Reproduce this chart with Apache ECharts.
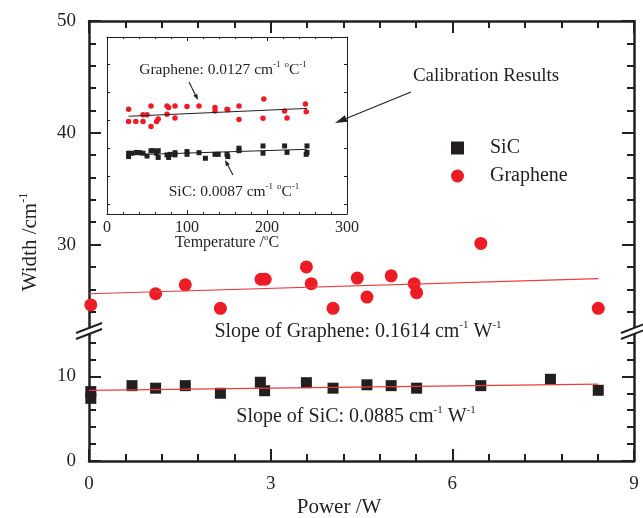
<!DOCTYPE html>
<html>
<head>
<meta charset="utf-8">
<script src="https://cdn.jsdelivr.net/npm/echarts@6/dist/echarts.min.js"></script>
<style>
html, body { margin: 0; padding: 0; background: #fff; }
#main { width: 643px; height: 518px; }
</style>
</head>
<body>
<div id="main"></div>
<script>
// main plot: line width vs heating power
var sicPower = [0.03, 0.03, 0.71, 1.10, 1.59, 2.17, 2.83, 2.90, 3.59, 4.03, 4.59, 4.99, 5.41, 6.47, 7.62, 8.41]
var sicWidth = [8.2, 7.4, 8.9, 8.6, 8.9, 8.0, 9.3, 8.3, 9.25, 8.6, 9.0, 8.9, 8.6, 8.9, 9.65, 8.35]
var graPower = [0.03, 1.10, 1.59, 2.17, 2.84, 2.91, 3.59, 3.67, 4.03, 4.43, 4.59, 4.99, 5.37, 5.41, 6.47, 8.41]
var graWidth = [24.6, 25.6, 26.4, 24.3, 26.9, 26.9, 28.0, 26.5, 24.3, 27.0, 25.3, 27.2, 26.5, 25.7, 30.1, 24.3]
// linear fits, end points
var fitPower = [0, 8.41]
var sicFit = [8.35, 9.09]
var graFit = [25.6, 26.96]

// inset: calibration vs temperature (y axis unlabeled)
var calGraTemp = [27, 27, 36, 45, 45, 50, 55, 55, 62, 64, 75, 77, 75, 85, 85, 100, 115, 135, 135, 150, 151, 165, 165, 195, 196, 222, 225, 248, 249]
var calGraWidth = [33.8, 29.4, 29.4, 29.4, 31.8, 31.8, 35.0, 27.6, 29.4, 30.3, 35.0, 34.4, 32.0, 35.0, 30.7, 34.8, 35.0, 34.4, 33.2, 33.8, 33.6, 35.0, 30.1, 30.6, 37.5, 33.2, 30.7, 35.7, 32.9]
var calSicTemp = [27, 27, 31, 37, 41, 45, 50, 55, 58, 62, 64, 64, 75, 77, 79, 85, 85, 100, 100, 115, 123, 135, 139, 150, 151, 165, 165, 195, 195, 222, 225, 250, 250, 249]
var calSicWidth = [18.1, 16.9, 18.1, 18.4, 18.3, 18.1, 17.1, 19.0, 19.0, 18.1, 19.0, 16.6, 17.5, 16.6, 17.7, 18.3, 17.5, 18.7, 17.7, 18.3, 16.3, 17.7, 17.7, 17.7, 16.9, 19.9, 19.0, 20.7, 18.1, 20.7, 18.4, 20.7, 18.4, 17.7]
var calFitTemp = [27, 250]
var calGraFit = [31.3, 34.1]
var calSicFit = [17.5, 19.5]

// tick values
var upperMajor = [30, 40, 50]
var upperMinor = [24, 26, 28, 32, 34, 36, 38, 42, 44, 46, 48]
var lowerMajor = [0, 10]
var lowerMinor = [2, 4, 6, 8, 12, 14]
var insetYTicks = [0, 10, 20, 30, 40, 50]

var ink = '#231f20'
var red = '#ed1c24'
var serif = 'Liberation Serif'

function zip (a, b) {
	return a.map(function (v, i) { return [v, b[i]] })
}

function yAxisOf (grid, pos, min, max, ticks, len, labels, lw) {
	return {
		type: 'value', gridIndex: grid, position: pos, min: min, max: max,
		axisLine: { show: lw > 0, onZero: false, lineStyle: { color: ink, width: lw || 1 } },
		axisTick: { show: true, inside: true, length: len, customValues: ticks, lineStyle: { color: ink, width: lw > 1.5 || lw === 0 ? 2 : 1 } },
		axisLabel: labels ? { show: true, customValues: labels, margin: 13, color: ink, fontFamily: serif, fontSize: 19 } : { show: false },
		splitLine: { show: false }
	}
}

function xAxisOf (grid, pos, min, max, interval, len, minLen, lw, labels, fs, margin) {
	return {
		type: 'value', gridIndex: grid, position: pos, min: min, max: max, interval: interval,
		axisLine: { show: true, onZero: false, lineStyle: { color: ink, width: lw } },
		axisTick: { show: true, inside: true, length: len, lineStyle: { color: ink, width: lw > 1.5 ? 2 : 1 } },
		minorTick: { show: true, splitNumber: 5, length: minLen, lineStyle: { color: ink, width: lw > 1.5 ? 2 : 1 } },
		axisLabel: { show: labels, margin: margin, color: ink, fontFamily: serif, fontSize: fs },
		splitLine: { show: false }, minorSplitLine: { show: false }
	}
}

function richText (x, y, text, size, supSize, rot) {
	return {
		type: 'text', x: x, y: y, rotation: rot || 0, z: 100,
		style: {
			text: text, align: 'center', verticalAlign: 'middle', textAlign: 'center', textVerticalAlign: 'middle',
			rich: {
				n: { fontSize: size, fontFamily: serif, fill: ink, lineHeight: size + 4 },
				s: { fontSize: supSize, fontFamily: serif, fill: ink, lineHeight: supSize, verticalAlign: 'top' }
			}
		}
	}
}

function arrow (x1, y1, x2, y2, h, w) {
	var ang = Math.atan2(y2 - y1, x2 - x1)
	var bx = x2 - h * Math.cos(ang), by = y2 - h * Math.sin(ang)
	var px = -Math.sin(ang) * w, py = Math.cos(ang) * w
	return [
		{ type: 'line', z: 100, shape: { x1: x1, y1: y1, x2: bx, y2: by }, style: { stroke: ink, lineWidth: 1.1 } },
		{ type: 'polygon', z: 100, shape: { points: [[x2, y2], [bx + px, by + py], [bx - px, by - py]] }, style: { fill: ink } }
	]
}

function breakMark (cx, cy) {
	return [
		{ type: 'polygon', z: 100, shape: { points: [[cx - 13, cy + 2], [cx + 13, cy - 8], [cx + 13, cy - 2], [cx - 13, cy + 8]] }, style: { fill: '#fff' } },
		{ type: 'line', z: 101, shape: { x1: cx - 13, y1: cy + 2, x2: cx + 13, y2: cy - 8 }, style: { stroke: ink, lineWidth: 2 } },
		{ type: 'line', z: 101, shape: { x1: cx - 13, y1: cy + 8, x2: cx + 13, y2: cy - 2 }, style: { stroke: ink, lineWidth: 2 } }
	]
}

var chart = echarts.init(document.getElementById('main'))

var graphics = [
	richText(30, 242, '{n|Width /cm}{s|-1}', 21, 12, Math.PI / 2),
	richText(339, 507, '{n|Power /W}', 21, 12),
	richText(358, 332, '{n|Slope of Graphene: 0.1614 cm}{s|-1}{n| W}{s|-1}', 20, 11),
	richText(356, 417, '{n|Slope of SiC: 0.0885 cm}{s|-1}{n| W}{s|-1}', 20, 11),
	richText(486, 76, '{n|Calibration Results}', 19, 11),
	richText(223, 70, '{n|Graphene: 0.0127 cm}{s|-1}{n| }{s|o}{n|C}{s|-1}', 15.5, 9),
	richText(234, 192, '{n|SiC: 0.0087 cm}{s|-1}{n| }{s|o}{n|C}{s|-1}', 15.5, 9),
	richText(227, 243, '{n|Temperature /}{s|o}{n|C}', 16, 9)
]
graphics = graphics
	.concat(arrow(411, 92, 335, 123, 12, 3.5))
	.concat(arrow(189, 82, 198, 100, 6, 2.2))
	.concat(arrow(233, 175, 225, 160, 6, 2.2))
	.concat(breakMark(89, 331))
	.concat(breakMark(634, 331))

var option = {
	animation: false,
	backgroundColor: '#fff',
	grid: [
		{ left: 89, top: 21, width: 545, height: 313, show: false },
		{ left: 89, top: 334, width: 545, height: 127, show: false },
		{ left: 107, top: 37, width: 240, height: 177, show: false }
	],
	xAxis: [
		xAxisOf(0, 'top', 0, 9, 3, 12, 7, 2.5, false, 19, 14),
		xAxisOf(1, 'bottom', 0, 9, 3, 12, 7, 2.5, true, 19, 14),
		xAxisOf(2, 'bottom', 0, 300, 100, 4, 2, 1, true, 16, 6),
		xAxisOf(2, 'top', 0, 300, 100, 4, 2, 1, false, 16, 6)
	],
	yAxis: [
		yAxisOf(0, 'left', 22, 50, upperMajor, 12, upperMajor, 2.5),
		yAxisOf(0, 'left', 22, 50, upperMinor, 7, null, 0),
		yAxisOf(0, 'right', 22, 50, upperMajor, 12, null, 2.5),
		yAxisOf(0, 'right', 22, 50, upperMinor, 7, null, 0),
		yAxisOf(1, 'left', 0, 15, lowerMajor, 12, lowerMajor, 2.5),
		yAxisOf(1, 'left', 0, 15, lowerMinor, 7, null, 0),
		yAxisOf(1, 'right', 0, 15, lowerMajor, 12, null, 2.5),
		yAxisOf(1, 'right', 0, 15, lowerMinor, 7, null, 0),
		yAxisOf(2, 'left', -3.6, 59.6, insetYTicks, 3, null, 1),
		yAxisOf(2, 'right', -3.6, 59.6, insetYTicks, 3, null, 1)
	],
	legend: {
		data: [{ name: 'SiC', icon: 'rect' }, { name: 'Graphene', icon: 'circle' }],
		orient: 'vertical', left: 446, top: 133,
		itemWidth: 13, itemHeight: 13, itemGap: 8,
		formatter: function (name) { return '{p| }' + name },
		textStyle: { fontFamily: serif, fontSize: 20, color: ink, rich: { p: { width: 21 } } }
	},
	series: [
		{
			name: 'SiC', type: 'scatter', xAxisIndex: 1, yAxisIndex: 4,
			symbol: 'rect', symbolSize: 11, itemStyle: { color: ink, opacity: 1 },
			data: zip(sicPower, sicWidth)
		},
		{
			name: 'Graphene', type: 'scatter', xAxisIndex: 0, yAxisIndex: 0,
			symbol: 'circle', symbolSize: 13, itemStyle: { color: red, opacity: 1 },
			data: zip(graPower, graWidth)
		},
		{
			name: 'SiC fit', type: 'line', xAxisIndex: 1, yAxisIndex: 4, z: 3,
			showSymbol: false, lineStyle: { color: '#ec3b3b', width: 1.2 },
			data: zip(fitPower, sicFit)
		},
		{
			name: 'Graphene fit', type: 'line', xAxisIndex: 0, yAxisIndex: 0, z: 3,
			showSymbol: false, lineStyle: { color: '#ec3b3b', width: 1.2 },
			data: zip(fitPower, graFit)
		},
		{
			name: 'SiC calibration', type: 'scatter', xAxisIndex: 2, yAxisIndex: 8,
			symbol: 'rect', symbolSize: 5, itemStyle: { color: ink, opacity: 1 },
			data: zip(calSicTemp, calSicWidth)
		},
		{
			name: 'Graphene calibration', type: 'scatter', xAxisIndex: 2, yAxisIndex: 8,
			symbol: 'circle', symbolSize: 5.5, itemStyle: { color: red, opacity: 1 },
			data: zip(calGraTemp, calGraWidth)
		},
		{
			name: 'SiC calibration fit', type: 'line', xAxisIndex: 2, yAxisIndex: 8, z: 3,
			showSymbol: false, lineStyle: { color: ink, width: 1 },
			data: zip(calFitTemp, calSicFit)
		},
		{
			name: 'Graphene calibration fit', type: 'line', xAxisIndex: 2, yAxisIndex: 8, z: 3,
			showSymbol: false, lineStyle: { color: ink, width: 1 },
			data: zip(calFitTemp, calGraFit)
		}
	],
	graphic: graphics
}

chart.setOption(option)
</script>
</body>
</html>
